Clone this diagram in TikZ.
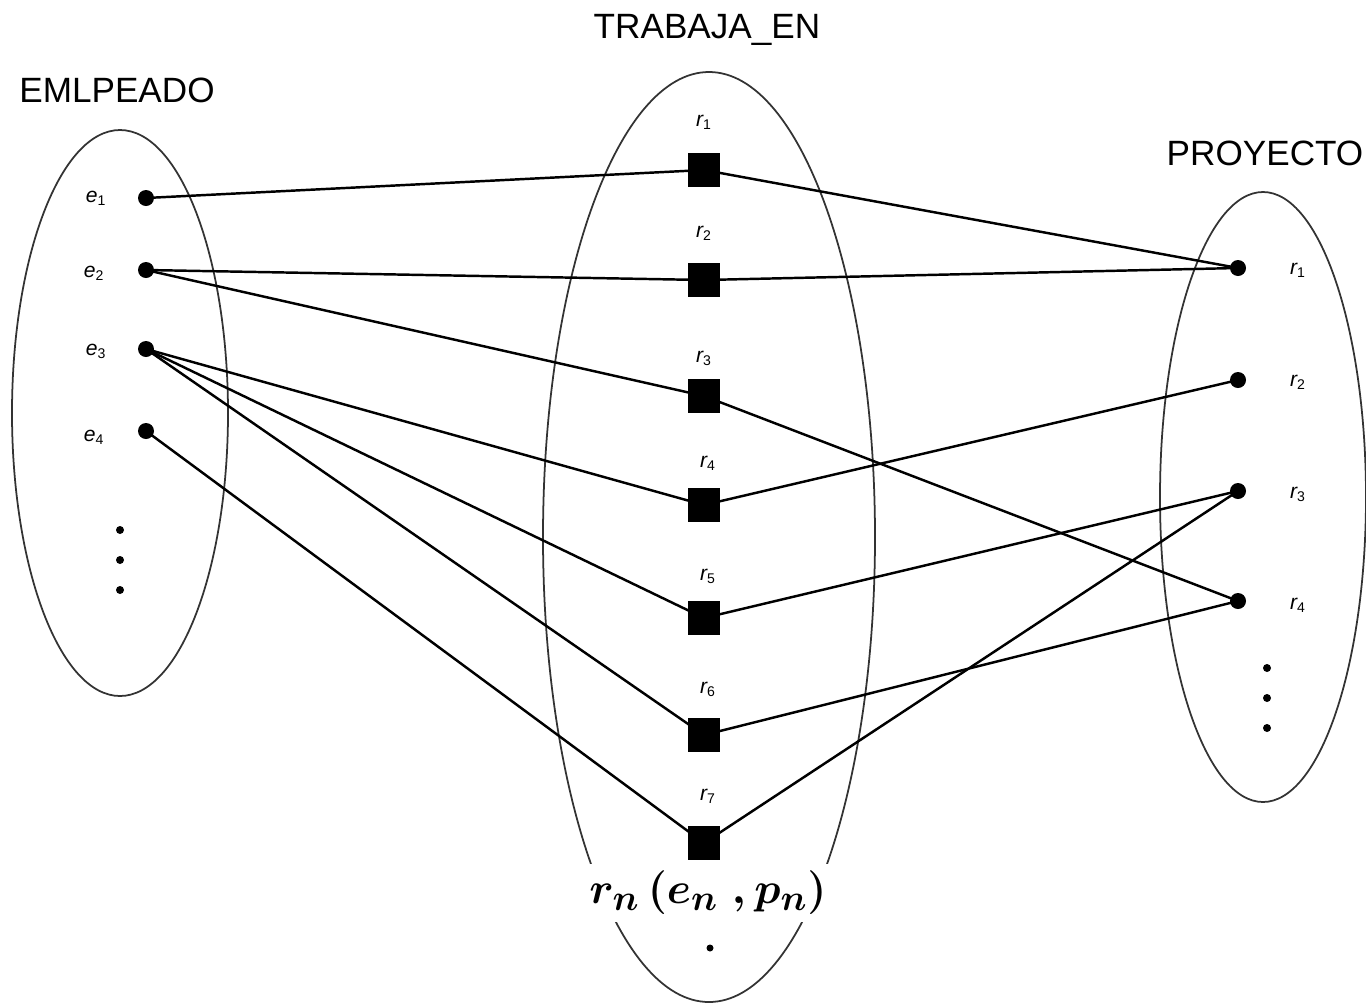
\documentclass[tikz,border=0pt]{standalone}
\usepackage{fontspec}
\usepackage{amsmath}
\setmainfont{Liberation Sans}
\newcommand{\lbl}[2]{{\itshape #1}\textsubscript{\upshape #2}}
\begin{document}
\begin{tikzpicture}[x=0.02cm,y=-0.02cm,
  setell/.style={draw=black!80,line width=1pt},
  conn/.style={draw=black,line width=1.4pt},
  edot/.style={circle,fill=black,inner sep=0pt,minimum size=0.32cm},
  rsq/.style={rectangle,fill=black,inner sep=0pt,minimum width=0.64cm,minimum height=0.68cm},
  vdot/.style={circle,fill=black,inner sep=0pt,minimum size=0.16cm},
  title/.style={font=\fontsize{20}{24}\selectfont,inner sep=0pt},
  lab/.style={font=\fontsize{12}{14}\selectfont,inner sep=0pt}]
\useasboundingbox (0,0) rectangle (1366,1005);
% sets
\draw[setell] (120,413) ellipse [x radius=108, y radius=283];
\draw[setell] (709,537) ellipse [x radius=166, y radius=465];
\draw[setell] (1263,497) ellipse [x radius=103, y radius=305];
% titles
\node[title] (tE) at (117,90) {EMLPEADO};
\node[title] (tT) at (707,30) {TRABAJA\_EN};
\node[title] (tP) at (1265,153) {PROYECTO};
% employees
\node[edot] (e1) at (146,198) {};
\node[edot] (e2) at (146,270) {};
\node[edot] (e3) at (146,349) {};
\node[edot] (e4) at (146,431) {};
\node[lab] (le1) at (96,198) {\lbl{e}{1}};
\node[lab] (le2) at (94,273) {\lbl{e}{2}};
\node[lab] (le3) at (96,351) {\lbl{e}{3}};
\node[lab] (le4) at (94,437) {\lbl{e}{4}};
\node[vdot] (ed1) at (120,530) {};
\node[vdot] (ed2) at (120,560) {};
\node[vdot] (ed3) at (120,590) {};
% projects
\node[edot] (p1) at (1238,268) {};
\node[edot] (p2) at (1238,380) {};
\node[edot] (p3) at (1238,491) {};
\node[edot] (p4) at (1238,601) {};
\node[lab] (lp1) at (1298,270) {\lbl{r}{1}};
\node[lab] (lp2) at (1298,382) {\lbl{r}{2}};
\node[lab] (lp3) at (1298,494) {\lbl{r}{3}};
\node[lab] (lp4) at (1298,605) {\lbl{r}{4}};
\node[vdot] (pd1) at (1267,668) {};
\node[vdot] (pd2) at (1267,698) {};
\node[vdot] (pd3) at (1267,728) {};
% relationship coordinates
\coordinate (c1) at (704,170);
\coordinate (c2) at (704,280);
\coordinate (c3) at (704,396);
\coordinate (c4) at (704,505);
\coordinate (c5) at (704,618);
\coordinate (c6) at (704,735);
\coordinate (c7) at (704,843);
% connectors
\draw[conn] (e1.center) -- (c1) -- (p1.center);
\draw[conn] (e2.center) -- (c2) -- (p1.center);
\draw[conn] (e2.center) -- (c3) -- (p4.center);
\draw[conn] (e3.center) -- (c4) -- (p2.center);
\draw[conn] (e3.center) -- (c5) -- (p3.center);
\draw[conn] (e3.center) -- (c6) -- (p4.center);
\draw[conn] (e4.center) -- (c7) -- (p3.center);
% relationship instances
\node[rsq] (r1) at (c1) {};
\node[rsq] (r2) at (c2) {};
\node[rsq] (r3) at (c3) {};
\node[rsq] (r4) at (c4) {};
\node[rsq] (r5) at (c5) {};
\node[rsq] (r6) at (c6) {};
\node[rsq] (r7) at (c7) {};
\node[lab] (lr1) at (704,122) {\lbl{r}{1}};
\node[lab] (lr2) at (704,233) {\lbl{r}{2}};
\node[lab] (lr3) at (704,358) {\lbl{r}{3}};
\node[lab] (lr4) at (708,463) {\lbl{r}{4}};
\node[lab] (lr5) at (708,576) {\lbl{r}{5}};
\node[lab] (lr6) at (708,689) {\lbl{r}{6}};
\node[lab] (lr7) at (708,796) {\lbl{r}{7}};
% generic instance
\node[fill=white,inner xsep=2pt,inner ysep=4pt,font=\fontsize{28}{32}\selectfont] (rn) at (708,893) {$\boldsymbol{r_n\,(e_n\;,p_n)}$};
\node[vdot,minimum size=0.14cm] (rd) at (710,948) {};
\end{tikzpicture}
\end{document}
